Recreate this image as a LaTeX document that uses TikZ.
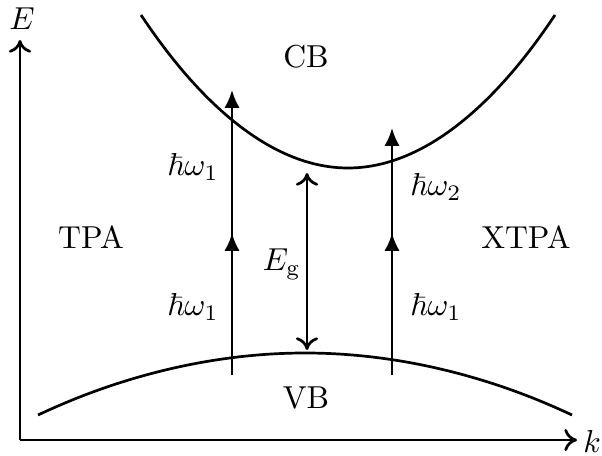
\documentclass[tikz,border=0pt]{standalone}
\usepackage{amsmath,amssymb}
\usepackage{tikz}
\usetikzlibrary{arrows.meta}

\begin{document}
\begin{tikzpicture}[
  x=0.315pt, y=-0.315pt,
  band/.style={line width=0.85pt},
  axis/.style={line width=0.85pt, -{To[length=4pt,width=7pt]}},
  photon/.style={line width=0.85pt, -{Latex[length=5.6pt,width=4.8pt]}},
  gap/.style={line width=0.85pt, {To[length=4pt,width=7pt]}-{To[length=4pt,width=7pt]}}
]
  \useasboundingbox (0,0) rectangle (602,455);
  % axes
  \coordinate (o) at (20,440);
  \coordinate (ey) at (20,40);
  \coordinate (ek) at (577,440);
  \draw[axis] (o) -- (ey);
  \draw[axis] (o) -- (ek);
  \node (E) at (22,19) {$E$};
  \node (k) at (592,441) {$k$};

  % bands
  \draw[band] (141,15) parabola bend (348,168) (555,15);
  \draw[band] (38,415) parabola bend (305,353) (572,415);
  \node (cb) at (306,57) {CB};
  \node (vb) at (306,398) {VB};
  \node (tpa) at (91,237) {TPA};
  \node (xtpa) at (526,237) {XTPA};

  % photon steps
  \foreach \s/\x/\t in {l/232/90, r/392/128} {
    \coordinate (\s0) at (\x,375);
    \coordinate (\s1) at (\x,233);
    \coordinate (\s2) at (\x,\t);
    \draw[photon] (\s0) -- (\s2);
    \draw[photon] (\s0) -- (\s1);
  }
  \node (w1a) at (193,167) {$\hbar\omega_1$};
  \node (w1b) at (193,307) {$\hbar\omega_1$};
  \node (w2) at (436,187) {$\hbar\omega_2$};
  \node (w1c) at (436,307) {$\hbar\omega_1$};

  % gap
  \coordinate (g0) at (307,173);
  \coordinate (g1) at (307,350);
  \draw[gap] (g0) -- (g1);
  \node (eg) at (282,264) {$E_{\mathrm{g}}$};
\end{tikzpicture}
\end{document}
